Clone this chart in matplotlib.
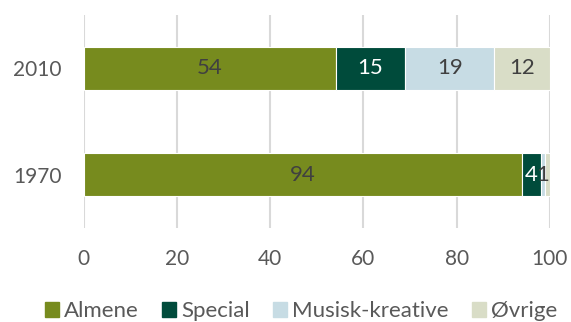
import numpy as np
import matplotlib.pyplot as plt
from matplotlib.patches import Patch

plt.rcParams['font.family'] = ['Lato', 'DejaVu Sans']

years = ['1970', '2010']
series = ['Almene', 'Special', 'Musisk-kreative', 'Øvrige']
almene = [94, 54]
special = [4, 15]
musisk = [1, 19]
ovrige = [1, 12]
values = [almene, special, musisk, ovrige]
colors = ['#778B1E', '#004B3B', '#C7DCE4', '#D9DDC7']
label_colors = ['#404040', 'white', '#404040', '#404040']
text_color = '#595959'

fig = plt.figure(figsize=(5.71, 3.22), dpi=100)
ax = fig.add_axes([0.147, 0.292, 0.816, 0.661])

y = np.arange(len(years))
left = np.zeros(len(years))
last_label = [-10.0] * len(years)
for vals, c, lc in zip(values, colors, label_colors):
    vals = np.array(vals, dtype=float)
    ax.barh(y, vals, left=left, height=0.4, color=c, edgecolor='white', linewidth=0.8, zorder=3)
    for i, (yi, l, v) in enumerate(zip(y, left, vals)):
        xc = l + v / 2
        # labels of tiny segments sit on top of each other, keep the first one
        if xc - last_label[i] < 2:
            continue
        ax.text(xc, yi, f'{int(v)}', ha='center', va='center', color=lc, fontsize=16, zorder=4)
        last_label[i] = xc
    left += vals

ax.set_xlim(0, 100)
ax.set_ylim(-0.5, 1.5)
ax.set_xticks([0, 20, 40, 60, 80, 100])
ax.set_yticks(y)
ax.set_yticklabels(years)
ax.grid(axis='x', color='#D9D9D9', linewidth=1.5, zorder=0)
for s in ax.spines.values():
    s.set_visible(False)
ax.tick_params(length=0, labelsize=15, colors=text_color)
ax.tick_params(axis='x', pad=15)
ax.tick_params(axis='y', pad=16)

handles = [Patch(color=c) for c in colors]
fig.legend(handles, series, loc='center', bbox_to_anchor=(0.527, 0.034), ncol=4, frameon=False,
           fontsize=16, labelcolor=text_color, handlelength=0.63, handleheight=0.63, handletextpad=0.23,
           columnspacing=1.04, borderpad=0)

fig.savefig('out.png', dpi=100)
